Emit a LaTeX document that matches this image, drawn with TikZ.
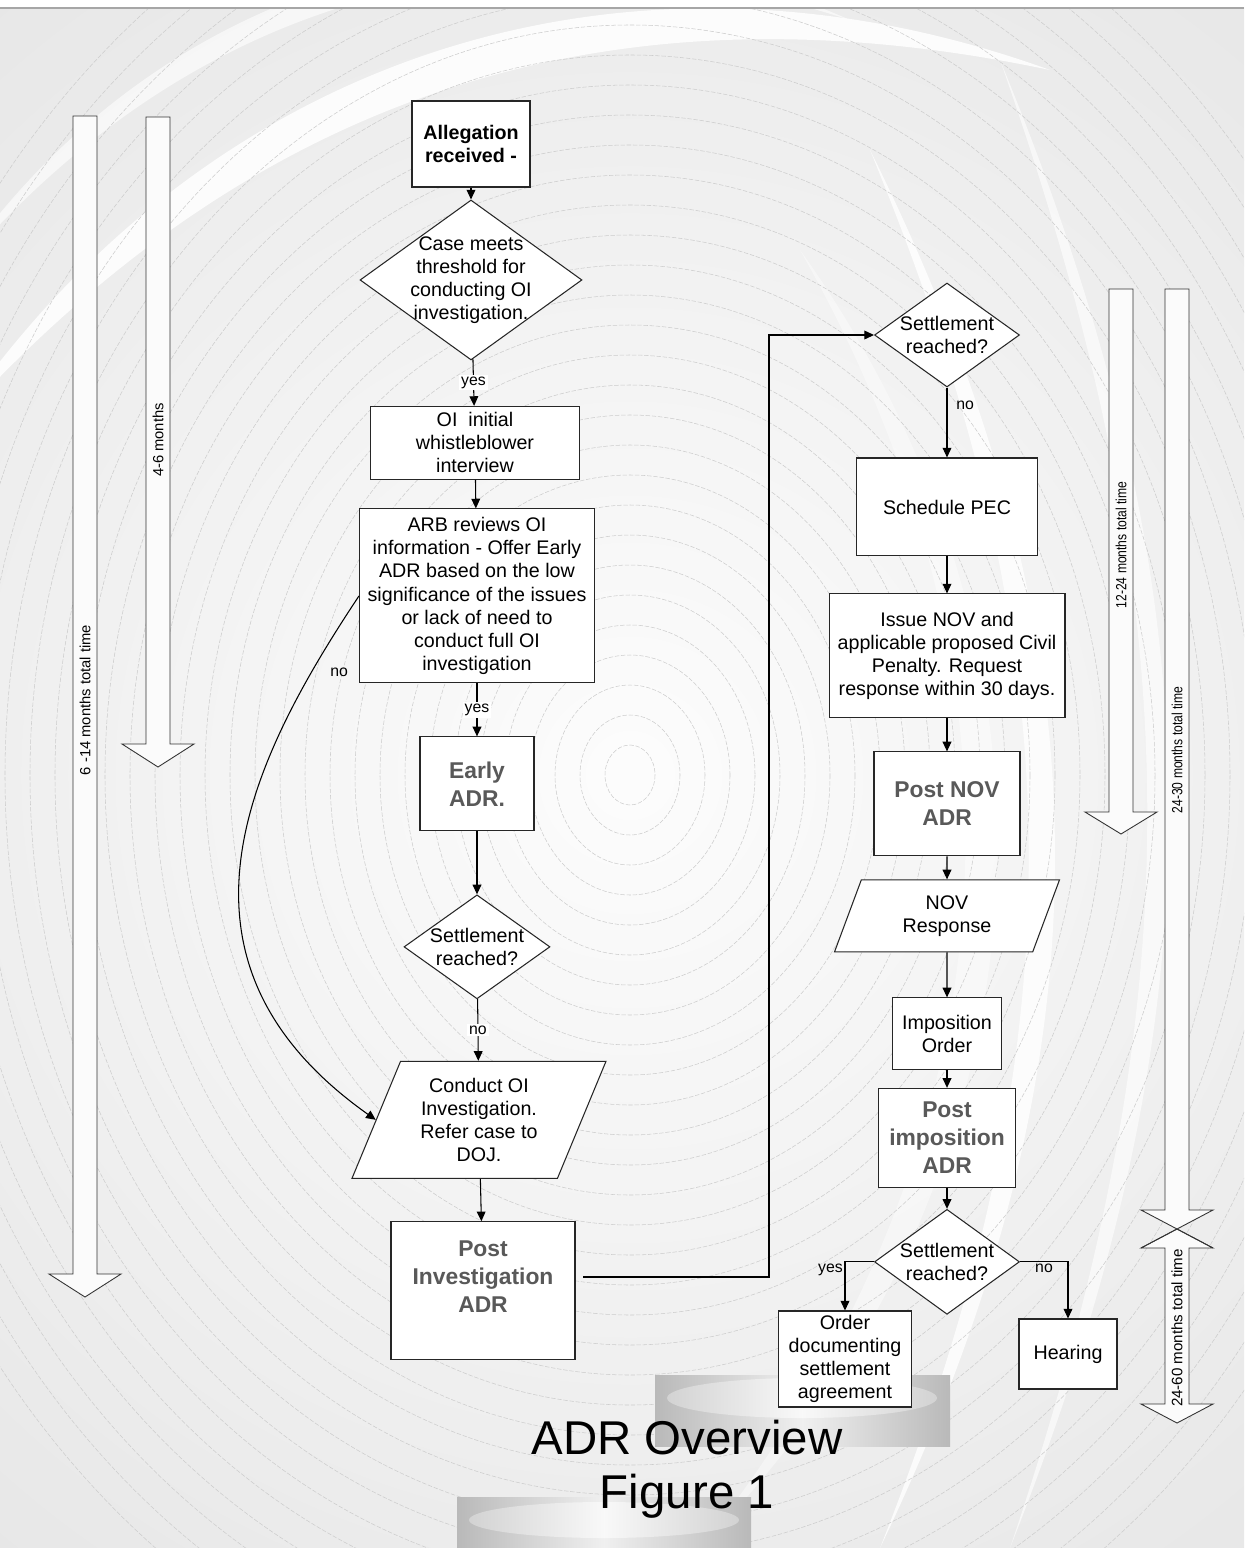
\documentclass[tikz,border=0pt]{standalone}
\usepackage{fontspec}
\setmainfont{Liberation Sans}
\newfontfamily\narrowfont[FakeStretch=0.82]{Liberation Sans}
\usepackage{tikz}
\usetikzlibrary{arrows.meta,shapes.geometric,positioning}
\definecolor{bggray}{HTML}{E4E4E4}
\definecolor{adrgray}{HTML}{595959}
\newcommand*\boxfont{\fontsize{11.2}{13.1}\selectfont}
\newcommand*\adrfont{\fontsize{13}{16}\selectfont\bfseries}
\newcommand*\lblfont{\fontsize{9}{10}\selectfont}
\newcommand*\tlfont{\fontsize{8.4}{10}\selectfont}
\newcommand*\tlarrow[4]{\filldraw[tlshape] (#1-12,#2) -- (#1+12,#2) -- (#1+12,#3) -- (#1+36,#3)
            -- (#1,#4) -- (#1-36,#3) -- (#1-12,#3) -- cycle;}

\begin{document}
\begin{tikzpicture}[x=0.02cm,y=-0.02cm,>={Triangle[length=5.5pt,width=5pt]},line width=0.6pt,
	box/.style={shape=rectangle,draw=black!85,fill=white,align=center,inner sep=2pt,font=\boxfont},
	adrbox/.style={box,font=\adrfont,text=adrgray},
	decision/.style={shape=diamond,draw=black!85,fill=white,inner sep=0pt},
	iobox/.style={trapezium,trapezium left angle=63,trapezium right angle=117,trapezium stretches body,
		draw=black!85,fill=white,align=center,font=\boxfont},
	lbl/.style={fill=white,inner sep=1pt,font=\lblfont},
	ring/.style={gray!40,line width=0.3pt,dash pattern=on 2.5pt off 1pt},
	swoosh/.style={white,draw=none},
	tlshape/.style={draw=black!80,fill=gray!3,line width=0.5pt},
	tltext/.style={rotate=90,font=\tlfont,inner sep=1pt}]
	\useasboundingbox (0,0) rectangle (1244,1548);
	\fill[white] (0,0) rectangle (1244,1548);
	\begin{scope}
		\clip (0,8) rectangle (1244,1548);
		\fill[bggray] (0,8) rectangle (1244,1548);
		\shade[inner color=gray!2,outer color=bggray] (630,775) circle (1150);
		\fill[swoosh,opacity=0.85] (-50,430) to[bend left=38] (1050,70) to[bend right=30] (-50,430);
		\fill[swoosh,opacity=0.6] (-50,280) to[bend left=40] (850,20) to[bend right=34] (-50,280);
		\fill[swoosh,opacity=0.8] (870,150) to[bend left=26] (880,1548) to[bend right=22] (870,150);
		\fill[swoosh,opacity=0.6] (1000,60) to[bend left=22] (1010,1548) to[bend right=19] (1000,60);
		\fill[swoosh,opacity=0.4] (800,250) to[bend left=40] (700,1548) to[bend right=34] (800,250);
		\foreach \r in {1,...,32}
			\draw[ring] (630,775) ellipse ({25*\r} and {30*\r});
	\end{scope}
	\draw[gray!70,line width=0.8pt] (0,8) -- (1244,8);

	\shade[left color=gray!55,right color=gray!55,middle color=gray!12] (655,1375) rectangle (950,1446);
	\shade[left color=gray!35,right color=gray!35,middle color=gray!5] (802,1398) ellipse (135 and 20);
	\shade[left color=gray!55,right color=gray!55,middle color=gray!12] (457,1497) rectangle (751,1548);
	\shade[left color=gray!35,right color=gray!35,middle color=gray!5] (604,1520) ellipse (135 and 18);

	\tlarrow{85}{116}{1274}{1297}
	\tlarrow{158}{117}{744}{767}
	\tlarrow{1121}{289}{812}{834}
	\filldraw[tlshape] (1177,1229) -- (1213,1248) -- (1189,1248) -- (1189,1404) -- (1213,1404) -- (1177,1423)
		-- (1141,1404) -- (1165,1404) -- (1165,1248) -- (1141,1248) -- cycle;
	\tlarrow{1177}{289}{1210}{1229}
	\draw[tlshape,fill=none] (1141,1248) -- (1177,1229) -- (1213,1248);
	\node[tltext] (tlA) at (85,700) {6 -14 months total time};
	\node[tltext] (tlB) at (158,440) {4-6 months};
	\node[tltext,font=\narrowfont\tlfont] (tlC) at (1121,545) {12-24 months total time};
	\node[tltext,font=\narrowfont\tlfont] (tlD) at (1177,750) {24-30 months total time};
	\node[tltext,font=\fontsize{8.6}{10}\selectfont] (tlE) at (1177,1328) {24-60 months total time};

	\node (alleg) [box,font=\boxfont\bfseries,minimum width=2.36cm,minimum height=1.72cm] at (471,144) {Allegation\\received -};
	\node (thresh) [decision,minimum width=4.44cm,minimum height=3.2cm,
		label={[align=center,font=\boxfont]center:Case meets\\threshold for\\conducting OI\\investigation.}]
		[node distance=2.72cm,below of=alleg] {};
	\node (interv) [box,minimum width=4.18cm,minimum height=1.46cm] [node distance=3.26cm,below of=thresh,xshift=0.08cm]
		{OI\ \ initial\\whistleblower\\interview};
	\node (arb) [box,minimum width=4.7cm,minimum height=3.48cm] [node distance=3.06cm,below of=interv,xshift=0.04cm]
		{ARB reviews OI\\information - Offer Early\\ADR based on the low\\significance of the issues\\or lack of need to\\conduct full OI\\investigation};
	\node (early) [adrbox,minimum width=2.28cm,minimum height=1.88cm] [node distance=3.76cm,below of=arb] {Early\\ADR.};
	\node (settle1) [decision,minimum width=2.92cm,minimum height=2.08cm,
		label={[align=center,font=\boxfont]center:Settlement\\reached?}]
		[node distance=3.26cm,below of=early] {};
	\node (conduct) [iobox,minimum width=5.08cm,minimum height=2.34cm] [node distance=3.46cm,below of=settle1,xshift=0.04cm]
		{Conduct OI\\Investigation.\\Refer case to\\DOJ.};
	\node (postinv) [adrbox,minimum width=3.68cm,minimum height=2.76cm] [node distance=3.42cm,below of=conduct,xshift=0.08cm]
		{Post\\Investigation\\ADR\\~};

	\node (settle2) [decision,minimum width=2.9cm,minimum height=2.08cm,
		label={[align=center,font=\boxfont]center:Settlement\\reached?}] at (947,335) {};
	\node (pec) [box,minimum width=3.62cm,minimum height=1.96cm] [node distance=3.44cm,below of=settle2] {Schedule PEC};
	\node (issue) [box,minimum width=4.72cm,minimum height=2.48cm] [node distance=2.98cm,below of=pec]
		{Issue NOV and\\applicable proposed Civil\\Penalty. Request\\response within 30 days.};
	\node (postnov) [adrbox,minimum width=2.92cm,minimum height=2.08cm] [node distance=2.96cm,below of=issue] {Post NOV\\ADR};
	\node (novresp) [iobox,minimum width=4.5cm,minimum height=1.44cm] [node distance=2.24cm,below of=postnov] {NOV\\Response};
	\node (impos) [box,minimum width=2.18cm,minimum height=1.44cm] [node distance=2.36cm,below of=novresp] {Imposition\\Order};
	\node (postimp) [adrbox,minimum width=2.74cm,minimum height=1.98cm] [node distance=2.08cm,below of=impos] {Post\\imposition\\ADR};
	\node (settle3) [decision,minimum width=2.9cm,minimum height=2.1cm,
		label={[align=center,font=\boxfont]center:Settlement\\reached?}]
		[node distance=2.48cm,below of=postimp] {};
	\node (order) [box,minimum width=2.66cm,minimum height=1.92cm] at (845,1359) {Order\\documenting\\settlement\\agreement};
	\node (hearing) [box,minimum width=1.96cm,minimum height=1.4cm] at (1068,1354) {Hearing};

	\path[->] (alleg) edge (thresh);
	\path[->] (thresh) edge node[lbl] {yes} (interv);
	\path[->] (interv) edge (arb);
	\path[->] (arb) edge node[lbl] {yes} (early);
	\path[->] (early) edge (settle1);
	\path[->] (settle1) edge node[lbl] {no} (conduct);
	\path[->] (conduct) edge (postinv);
	\draw[->] (arb.west) .. controls (250,760) and (150,960) .. (conduct.west)
		node[pos=0.15,right=7pt,font=\lblfont] {no};
	\coordinate (invout) at (583,1277);
	\coordinate (invbend) at (769,1277);
	\draw[->] (invout) -- (invbend) |- (settle2);
	\path[->] (settle2) edge node[right,pos=0.25,inner sep=5pt,font=\lblfont] {no} (pec);
	\path[->] (pec) edge (issue);
	\path[->] (issue) edge (postnov);
	\path[->] (postnov) edge (novresp);
	\path[->] (novresp) edge (impos);
	\path[->] (impos) edge (postimp);
	\path[->] (postimp) edge (settle3);
	\draw[->] (settle3) -| node[pos=0.5,below left,inner sep=1pt,font=\lblfont] {yes} (order);
	\draw[->] (settle3) -| node[pos=0.25,below,inner sep=1pt,font=\lblfont] {no} (hearing);

	\node (title) [align=center,font=\fontsize{27}{31}\selectfont] at (687,1469) {ADR Overview\\Figure 1};
\end{tikzpicture}
\end{document}
